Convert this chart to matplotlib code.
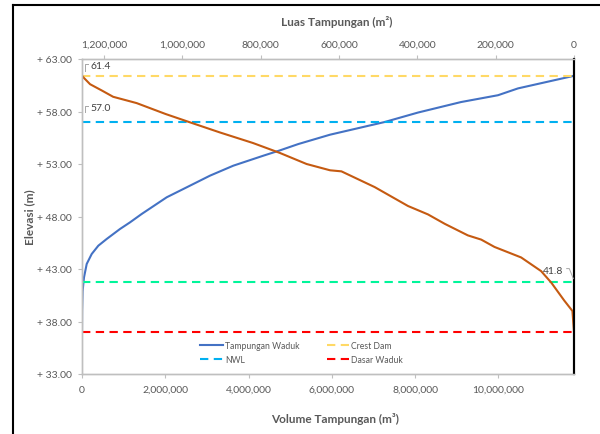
import matplotlib
matplotlib.use('Agg')
import matplotlib.pyplot as plt
from matplotlib.lines import Line2D
from matplotlib.transforms import IdentityTransform
from matplotlib.ticker import FuncFormatter

plt.rcParams['font.family'] = ['Lato', 'DejaVu Sans']

# Lengkung kapasitas: elevasi vs volume tampungan (m3)
elev_vol = [37.0, 39.0, 40.9, 42.2, 43.48, 44.43, 45.22, 45.86, 46.81, 47.44, 48.24,
            49.83, 50.78, 51.89, 52.84, 53.79, 54.3, 54.9, 55.79, 57.0, 57.9, 58.9,
            59.55, 60.2, 61.4]
volume = [0, 3000, 15000, 48000, 113000, 233000, 392000, 593000, 912000, 1152000,
          1433000, 2034000, 2514000, 3073000, 3633000, 4353000, 4754000, 5193000,
          5954000, 7268000, 8067000, 9100000, 9988000, 10468000, 11813000]

# Lengkung luas genangan: elevasi vs luas tampungan (m2)
elev_luas = [61.4, 61.25, 60.6, 60.0, 59.4, 58.8, 57.76, 56.97, 56.0, 55.0, 54.05,
             53.0, 52.4, 52.3, 50.8, 49.0, 48.2, 47.3, 46.2, 45.8, 45.1, 44.1, 42.8,
             41.7, 40.0, 39.0, 37.0]
luas = [1256600, 1253000, 1236000, 1206000, 1177000, 1117000, 1043000, 981000,
        904000, 820000, 751000, 683000, 623000, 594000, 509000, 424000, 373000,
        330000, 271000, 237000, 203000, 135000, 84000, 58000, 25000, 4000, 0]

# Elevasi penting
crest_dam = 61.4
nwl = 57.0
lwl = 41.8
dasar_waduk = 37.0

vol_max = 11813000
luas_max = 1256600

grey = '#595959'
spine_grey = '#BFBFBF'

fig = plt.figure(figsize=(6, 4.35), dpi=100)
ax = fig.add_axes([82/600, 1 - 375/435, 492/600, 315/435])

ax.plot(volume, elev_vol, color='#4472C4', lw=1.5, label='Tampungan Waduk')
dash = (4, 2.6)
ax.plot([0, vol_max], [nwl, nwl], color='#00B0F0', lw=1.5, dashes=dash, label='NWL')
ax.plot([0, vol_max], [crest_dam, crest_dam], color='#FFD966', lw=1.5, dashes=dash, label='Crest Dam')
ax.plot([0, vol_max], [dasar_waduk, dasar_waduk], color='#FF0000', lw=1.5, dashes=dash, label='Dasar Waduk')
ax.plot([0, vol_max], [lwl, lwl], color='#00F59A', lw=1.5, dashes=dash)

ax.set_xlim(0, vol_max)
ax.set_ylim(33, 63)
ax.set_yticks([33, 38, 43, 48, 53, 58, 63])
ax.yaxis.set_major_formatter(FuncFormatter(lambda v, p: f'+ {v:.2f}'))
ax.set_xticks([0, 2e6, 4e6, 6e6, 8e6, 10e6])
ax.xaxis.set_major_formatter(FuncFormatter(lambda v, p: f'{v:,.0f}'))

ax2 = ax.twiny()
ax2.plot(luas, elev_luas, color='#C55A11', lw=1.5)
ax2.set_xlim(luas_max, 0)
ax2.set_xticks([1.2e6, 1e6, 8e5, 6e5, 4e5, 2e5, 0])
ax2.xaxis.set_major_formatter(FuncFormatter(lambda v, p: f'{v:,.0f}'))

for a in (ax, ax2):
    for s in a.spines.values():
        s.set_color(spine_grey)
        s.set_linewidth(1.0)
    a.spines['right'].set_color('black')
    a.spines['right'].set_linewidth(1.5)
    a.tick_params(colors=spine_grey, labelcolor=grey, labelsize=7.5, length=3, width=0.8)
ax.tick_params(axis='y', pad=4.5)
ax.tick_params(axis='x', pad=5)
ax2.tick_params(axis='x', pad=4.5)

# label data + garis penunjuk kecil (dalam piksel relatif ke titik)
lbl = dict(fontsize=7.5, color='#404040', textcoords='offset pixels', va='center')
labels = [
    (0, crest_dam, (8.5, 10), 'left', [(3, 5), (3, 12), (6, 12)]),
    (0, nwl, (8.5, 14.5), 'left', [(3, 10), (3, 16.5), (6, 16.5)]),
    (vol_max, lwl, (-10.5, 11.3), 'right', [(-7.3, 13), (-4.7, 13), (-0.7, 3)]),
]
for xv, yv, off, ha, leader in labels:
    ax.annotate(f'{yv:.1f}', xy=(xv, yv), xytext=off, ha=ha, **lbl)
    px, py = ax.transData.transform((xv, yv))
    fig.add_artist(Line2D([px + d[0] for d in leader], [py + d[1] for d in leader],
                          color='#A6A6A6', lw=0.7, transform=IdentityTransform()))

fig.legend(*ax.get_legend_handles_labels(), loc='center', bbox_to_anchor=(0.503, 0.188),
           ncol=2, frameon=False, fontsize=6.2, labelcolor=grey, handlelength=2.6,
           handletextpad=0.25, columnspacing=3.2, labelspacing=0.55)

fig.text(0.05, 0.501, 'Elevasi (m)', rotation=90, ha='center', va='center',
         fontsize=8.5, fontweight='bold', color=grey)
fig.text(0.558, 1 - 419/435, 'Volume Tampungan (m³)', ha='center', va='center',
         fontsize=8.5, fontweight='bold', color=grey)
fig.text(0.561, 1 - 22/435, 'Luas Tampungan (m²)', ha='center', va='center',
         fontsize=8.5, fontweight='bold', color=grey)

# bingkai luar
fig.add_artist(Line2D([13/600, 13/600], [0, 1 - 6/435], color='black', lw=1.5, transform=fig.transFigure))
fig.add_artist(Line2D([13/600, 1], [1 - 6/435, 1 - 6/435], color='black', lw=1.5, transform=fig.transFigure))

fig.savefig('out.png', dpi=100)
